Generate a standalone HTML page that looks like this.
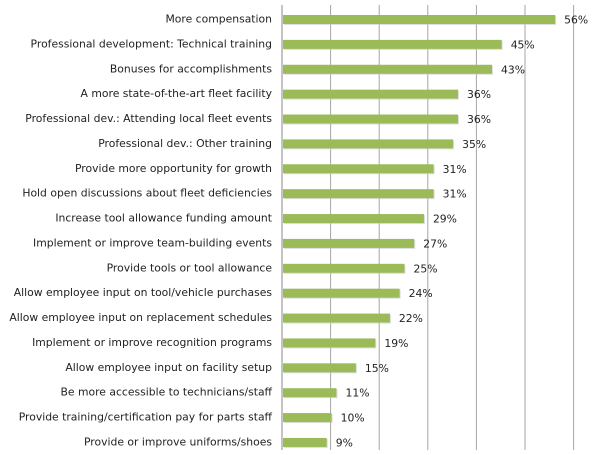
<!DOCTYPE html>
<html><head><style>
body{margin:0;background:#fff;}
svg text{font-family:"DejaVu Sans","Liberation Sans",sans-serif;font-size:10.8px;fill:#222;}
</style></head><body>
<svg width="600" height="450" xmlns="http://www.w3.org/2000/svg">
<g stroke="#a6a6a6" stroke-width="1">
<line x1="330.6" y1="5" x2="330.6" y2="450"/>
<line x1="379.2" y1="5" x2="379.2" y2="450"/>
<line x1="427.8" y1="5" x2="427.8" y2="450"/>
<line x1="476.4" y1="5" x2="476.4" y2="450"/>
<line x1="525" y1="5" x2="525" y2="450"/>
<line x1="573.6" y1="5" x2="573.6" y2="450"/>
<line x1="282" y1="5" x2="282" y2="450" stroke="#888"/>
</g>
<g id="bars"></g>
</svg>
<script>
var d=[["More compensation",56],["Professional development: Technical training",45],["Bonuses for accomplishments",43],["A more state-of-the-art fleet facility",36],["Professional dev.: Attending local fleet events",36],["Professional dev.: Other training",35],["Provide more opportunity for growth",31],["Hold open discussions about fleet deficiencies",31],["Increase tool allowance funding amount",29],["Implement or improve team-building events",27],["Provide tools or tool allowance",25],["Allow employee input on tool/vehicle purchases",24],["Allow employee input on replacement schedules",22],["Implement or improve recognition programs",19],["Allow employee input on facility setup",15],["Be more accessible to technicians/staff",11],["Provide training/certification pay for parts staff",10],["Provide or improve uniforms/shoes",9]];
var g=document.getElementById('bars'),s='';
d.forEach(function(r,i){var c=19.5+i*24.88,w=r[1]*4.86;
s+='<rect x="284" y="'+(c-3.5)+'" width="'+w+'" height="9" fill="#c8c8c8" opacity="0.6"/>';
s+='<rect x="283" y="'+(c-4.5)+'" width="'+w+'" height="9" fill="#9bbb59"/>';
s+='<text x="272" y="'+(c+3)+'" text-anchor="end">'+r[0]+'</text>';
s+='<text x="'+(283+w+9)+'" y="'+(c+4)+'">'+r[1]+'%</text>';});
g.innerHTML=s;
</script>
</body></html>
